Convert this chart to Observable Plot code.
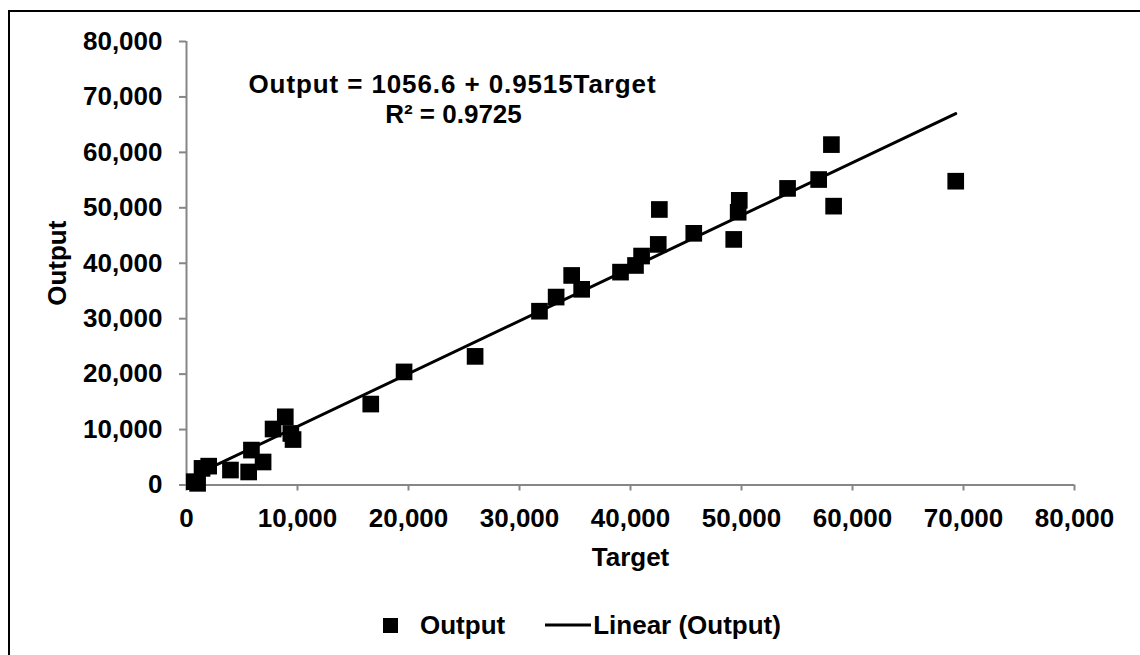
<!DOCTYPE html>
<html>
<head>
<meta charset="utf-8">
<script src="https://cdn.jsdelivr.net/npm/d3@7"></script>
<script src="https://cdn.jsdelivr.net/npm/@observablehq/plot@0.6"></script>
<style>
  html, body { margin: 0; padding: 0; background: #fff; overflow: hidden; }
  body { width: 1140px; height: 655px; position: relative; font-family: "Liberation Sans", Arial, sans-serif; font-weight: bold; }
  #frame { position: absolute; left: 8px; top: 10px; width: 2000px; height: 2000px; border: 2px solid #000; pointer-events: none; z-index: 5; }
  #chart { position: absolute; left: 0; top: 0; }
  #legend { position: absolute; left: 0; top: 610px; width: 1140px; height: 30px; display: flex; align-items: center; font-size: 26px; line-height: 30px; color: #000; }
  #legend .sw { display: inline-block; }
</style>
</head>
<body>
<div id="chart"></div>
<div id="legend"></div>
<div id="frame"></div>
<script>
// ---- data ----
const targets = [700, 1000, 1400, 2000, 3960, 5600, 5850, 6900, 7800, 8900, 9400, 9600, 16600, 19600, 26000, 31800, 33300, 34700, 35600, 39100, 40450, 41000, 42500, 42600, 45700, 49300, 49700, 49800, 54150, 56950, 58100, 58300, 69300];
const outputs = [600, 300, 3000, 3400, 2700, 2350, 6300, 4150, 10100, 12300, 9300, 8200, 14600, 20400, 23200, 31350, 33900, 37800, 35300, 38400, 39600, 41300, 43400, 49700, 45400, 44300, 49200, 51350, 53500, 55100, 61400, 50300, 54800];
const xTicks = [0, 10000, 20000, 30000, 40000, 50000, 60000, 70000, 80000];
const yTicks = [0, 10000, 20000, 30000, 40000, 50000, 60000, 70000, 80000];
const intercept = 1056.6;
const slope = 0.9515;
const rSquared = 0.9725;
const seriesName = "Output";
const trendName = "Linear (Output)";
const xLabel = "Target";
const yLabel = "Output";
const equationLine = `Output = ${intercept} + ${slope}Target`;
const rSquaredLine = `R\u00B2 = ${rSquared}`;

// ---- build tables ----
const points = targets.map((t, i) => ({Target: t, Output: outputs[i]}));
const [tMin, tMax] = d3.extent(targets);
const trend = [tMin, tMax].map(t => ({Target: t, Output: intercept + slope * t}));

const axisGray = "#868686";
const fmt = d3.format(",");

const plot = Plot.plot({
  width: 1140,
  height: 610,
  marginLeft: 186,
  marginRight: 66,
  marginTop: 41,
  marginBottom: 125.5,
  style: {fontFamily: "'Liberation Sans', Arial, sans-serif", fontSize: "26px", fontWeight: "bold", color: "#000", background: "transparent"},
  x: {domain: [0, 80000]},
  y: {domain: [0, 80000]},
  marks: [
    Plot.axisX({ticks: xTicks, tickFormat: fmt, tickSize: 6, tickPadding: 17.5, stroke: axisGray, strokeWidth: 2, fill: "#000", label: null}),
    Plot.axisY({ticks: yTicks, tickFormat: fmt, tickSize: 7, tickPadding: 17, stroke: axisGray, strokeWidth: 2, fill: "#000", label: null}),
    Plot.ruleY([0], {stroke: axisGray, strokeWidth: 2}),
    Plot.ruleX([0], {stroke: axisGray, strokeWidth: 2}),
    Plot.line(trend, {x: "Target", y: "Output", stroke: "#000", strokeWidth: 3}),
    Plot.dot(points, {x: "Target", y: "Output", symbol: "square", r: 9.4, fill: "#000", stroke: null}),
    Plot.text([equationLine], {frameAnchor: "top-left", dx: 266, dy: 51, text: d => d, textAnchor: "middle", lineAnchor: "bottom", fill: "#000"}),
    Plot.text([rSquaredLine], {frameAnchor: "top-left", dx: 267, dy: 81, text: d => d, textAnchor: "middle", lineAnchor: "bottom", fill: "#000"}),
    Plot.text([xLabel], {frameAnchor: "bottom", dy: 80.5, text: d => d, textAnchor: "middle", lineAnchor: "bottom", fill: "#000"}),
    Plot.text([yLabel], {frameAnchor: "left", dx: -121, rotate: -90, text: d => d, textAnchor: "middle", lineAnchor: "bottom", fill: "#000"})
  ]
});
document.getElementById("chart").appendChild(plot);
// the reference's equation line is set a little wider
d3.select(plot).selectAll("text").filter(function() { return this.textContent === equationLine; })
  .style("letter-spacing", "0.9px");

// ---- legend (HTML, below the SVG) ----
const legend = document.getElementById("legend");
legend.innerHTML = `
  <span style="width:383px"></span>
  <svg class="sw" width="15" height="15"><rect x="0" y="0" width="15" height="15" fill="#000"/></svg>
  <span style="width:22px"></span>
  <span>${seriesName}</span>
  <span style="width:40px"></span>
  <svg class="sw" width="46" height="6"><line x1="0" y1="3" x2="46" y2="3" stroke="#000" stroke-width="3"/></svg>
  <span style="width:2px"></span>
  <span>${trendName}</span>`;
</script>
</body>
</html>
